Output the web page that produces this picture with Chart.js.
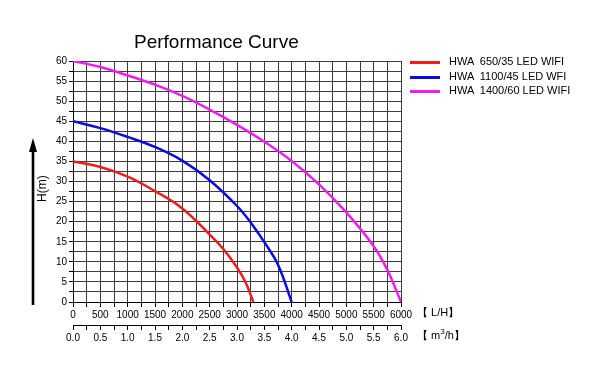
<!DOCTYPE html>
<html>
<head>
<meta charset="utf-8">
<script src="https://cdn.jsdelivr.net/npm/chart.js@4/dist/chart.umd.min.js"></script>
<style>
  html, body { margin: 0; padding: 0; background: #fff; }
  #wrap { position: relative; width: 600px; height: 392px; font-family: "Liberation Sans", Arial, sans-serif; color: #000; }
  #c { position: absolute; left: 0; top: 0; }
  .t { position: absolute; white-space: pre; line-height: 1; }
  #title { left: 134px; top: 32px; font-size: 19px; }
  .leg { position: absolute; left: 410px; width: 30px; height: 3px; }
  .legt { font-size: 11px; left: 449px; }
  .unit { font-size: 11px; left: 417px; }
  #ytitle { left: 29px; top: 183px; font-size: 12px; transform: rotate(-90deg); transform-origin: center; width: 26px; text-align: center; }
  #arrow { position: absolute; left: 0; top: 0; }
  sup { font-size: 8px; vertical-align: 5px; line-height: 0; }
</style>
</head>
<body>
<div id="wrap">
  <canvas id="c" width="600" height="392"></canvas>
  <svg id="arrow" width="60" height="392">
    <line x1="33" y1="148" x2="33" y2="305" stroke="#000" stroke-width="2.6"/>
    <polygon points="33,138 29,152 37,152" fill="#000"/>
  </svg>
  <div class="t" id="title">Performance Curve</div>
  <div class="t" id="ytitle">H(m)</div>
  <div id="legend"></div>
  <div class="t unit" style="top:307px;">【 L/H】</div>
  <div class="t unit" style="top:330px;">【 m<sup>3</sup>/h】</div>
</div>
<script>
// ---- data ----
const seriesNames = ["HWA  650/35 LED WIFI", "HWA  1100/45 LED WFI", "HWA  1400/60 LED WIFI"];
const seriesColors = ["#ee1c1c", "#0a0ae6", "#f01cf0"];

const redFlow  = [0, 500, 1000, 1500, 2000, 2500, 2750, 3000, 3150, 3300];
const redHead  = [35, 33.6, 31.2, 27.6, 23.3, 16.8, 13.2, 8.6, 5.1, 0];

const blueFlow = [0, 500, 1000, 1500, 2000, 2500, 3000, 3250, 3500, 3750, 4000];
const blueHead = [45, 43.3, 41.1, 38.6, 35.2, 30.3, 23.9, 19.8, 14.9, 9.3, 0];

const magFlow  = [0, 500, 1000, 1500, 2000, 2500, 3000, 3500, 4000, 4500, 5000, 5500, 5750, 6000];
const magHead  = [60, 58.5, 56.4, 54.1, 51.3, 47.9, 44.1, 39.9, 35.1, 29.3, 22.3, 13.9, 8.0, 0];

const xMaxLH = 6000, xStepLH = 250, xLabelLH = 500;
const xMaxM3 = 6, xStepM3 = 0.25, xLabelM3 = 0.5;
const yMax = 60, yStep = 2.5, yLabel = 5;

// ---- legend (HTML) ----
const legTops = [62, 77, 91];
const legend = document.getElementById('legend');
seriesNames.forEach((n, i) => {
  const l = document.createElement('div');
  l.className = 'leg';
  l.style.top = (legTops[i] - 1) + 'px';
  l.style.background = seriesColors[i];
  legend.appendChild(l);
  const t = document.createElement('div');
  t.className = 't legt';
  t.style.top = (legTops[i] - 6) + 'px';
  t.textContent = n;
  legend.appendChild(t);
});

function pts(xs, ys) { return xs.map((x, i) => ({ x: x, y: ys[i] })); }

const font = { family: '"Liberation Sans", Arial, sans-serif', size: 10 };
const isMult = (v, m) => Math.abs(v / m - Math.round(v / m)) < 1e-6;

new Chart(document.getElementById('c'), {
  type: 'line',
  data: {
    datasets: [
      { label: seriesNames[0], data: pts(redFlow, redHead), borderColor: seriesColors[0] },
      { label: seriesNames[1], data: pts(blueFlow, blueHead), borderColor: seriesColors[1] },
      { label: seriesNames[2], data: pts(magFlow, magHead), borderColor: seriesColors[2] }
    ].map(d => Object.assign(d, { borderWidth: 2.5, pointRadius: 0, tension: 0.4, fill: false, xAxisID: 'x', yAxisID: 'y' }))
  },
  options: {
    responsive: false,
    animation: false,
    devicePixelRatio: 1,
    layout: { padding: { left: 0, top: 61, right: 199, bottom: 42 } },
    plugins: { legend: { display: false }, title: { display: false }, tooltip: { enabled: false } },
    scales: {
      x: {
        type: 'linear', position: 'bottom', weight: 0,
        min: 0, max: xMaxLH,
        afterFit: s => { s.height = 23; },
        grid: { color: '#3c3c3c', lineWidth: 1, tickLength: 5, tickColor: '#000', drawTicks: true },
        border: { display: true, color: '#000', width: 1 },
        ticks: { stepSize: xStepLH, autoSkip: false, maxRotation: 0, minRotation: 0, padding: 2, color: '#000', font: font,
                 callback: v => isMult(v, xLabelLH) ? String(v) : '' }
      },
      x2: {
        type: 'linear', position: 'bottom', weight: 1,
        min: 0, max: xMaxM3,
        afterFit: s => { s.height = 25; },
        grid: { drawOnChartArea: false, tickLength: 5, tickColor: '#000', color: '#000' },
        border: { display: true, color: '#000', width: 1 },
        ticks: { stepSize: xStepM3, autoSkip: false, maxRotation: 0, minRotation: 0, padding: 2, color: '#000', font: font,
                 callback: v => isMult(v, xLabelM3) ? v.toFixed(1) : '' }
      },
      y: {
        type: 'linear', position: 'left',
        min: 0, max: yMax,
        afterFit: s => { s.width = 73; },
        grid: { color: '#3c3c3c', lineWidth: 1, tickLength: 4, tickColor: '#000' },
        border: { display: true, color: '#000', width: 1 },
        ticks: { stepSize: yStep, autoSkip: false, padding: 2, color: '#000', font: font,
                 callback: v => isMult(v, yLabel) ? String(v) : '' }
      }
    }
  }
});
</script>
</body>
</html>
